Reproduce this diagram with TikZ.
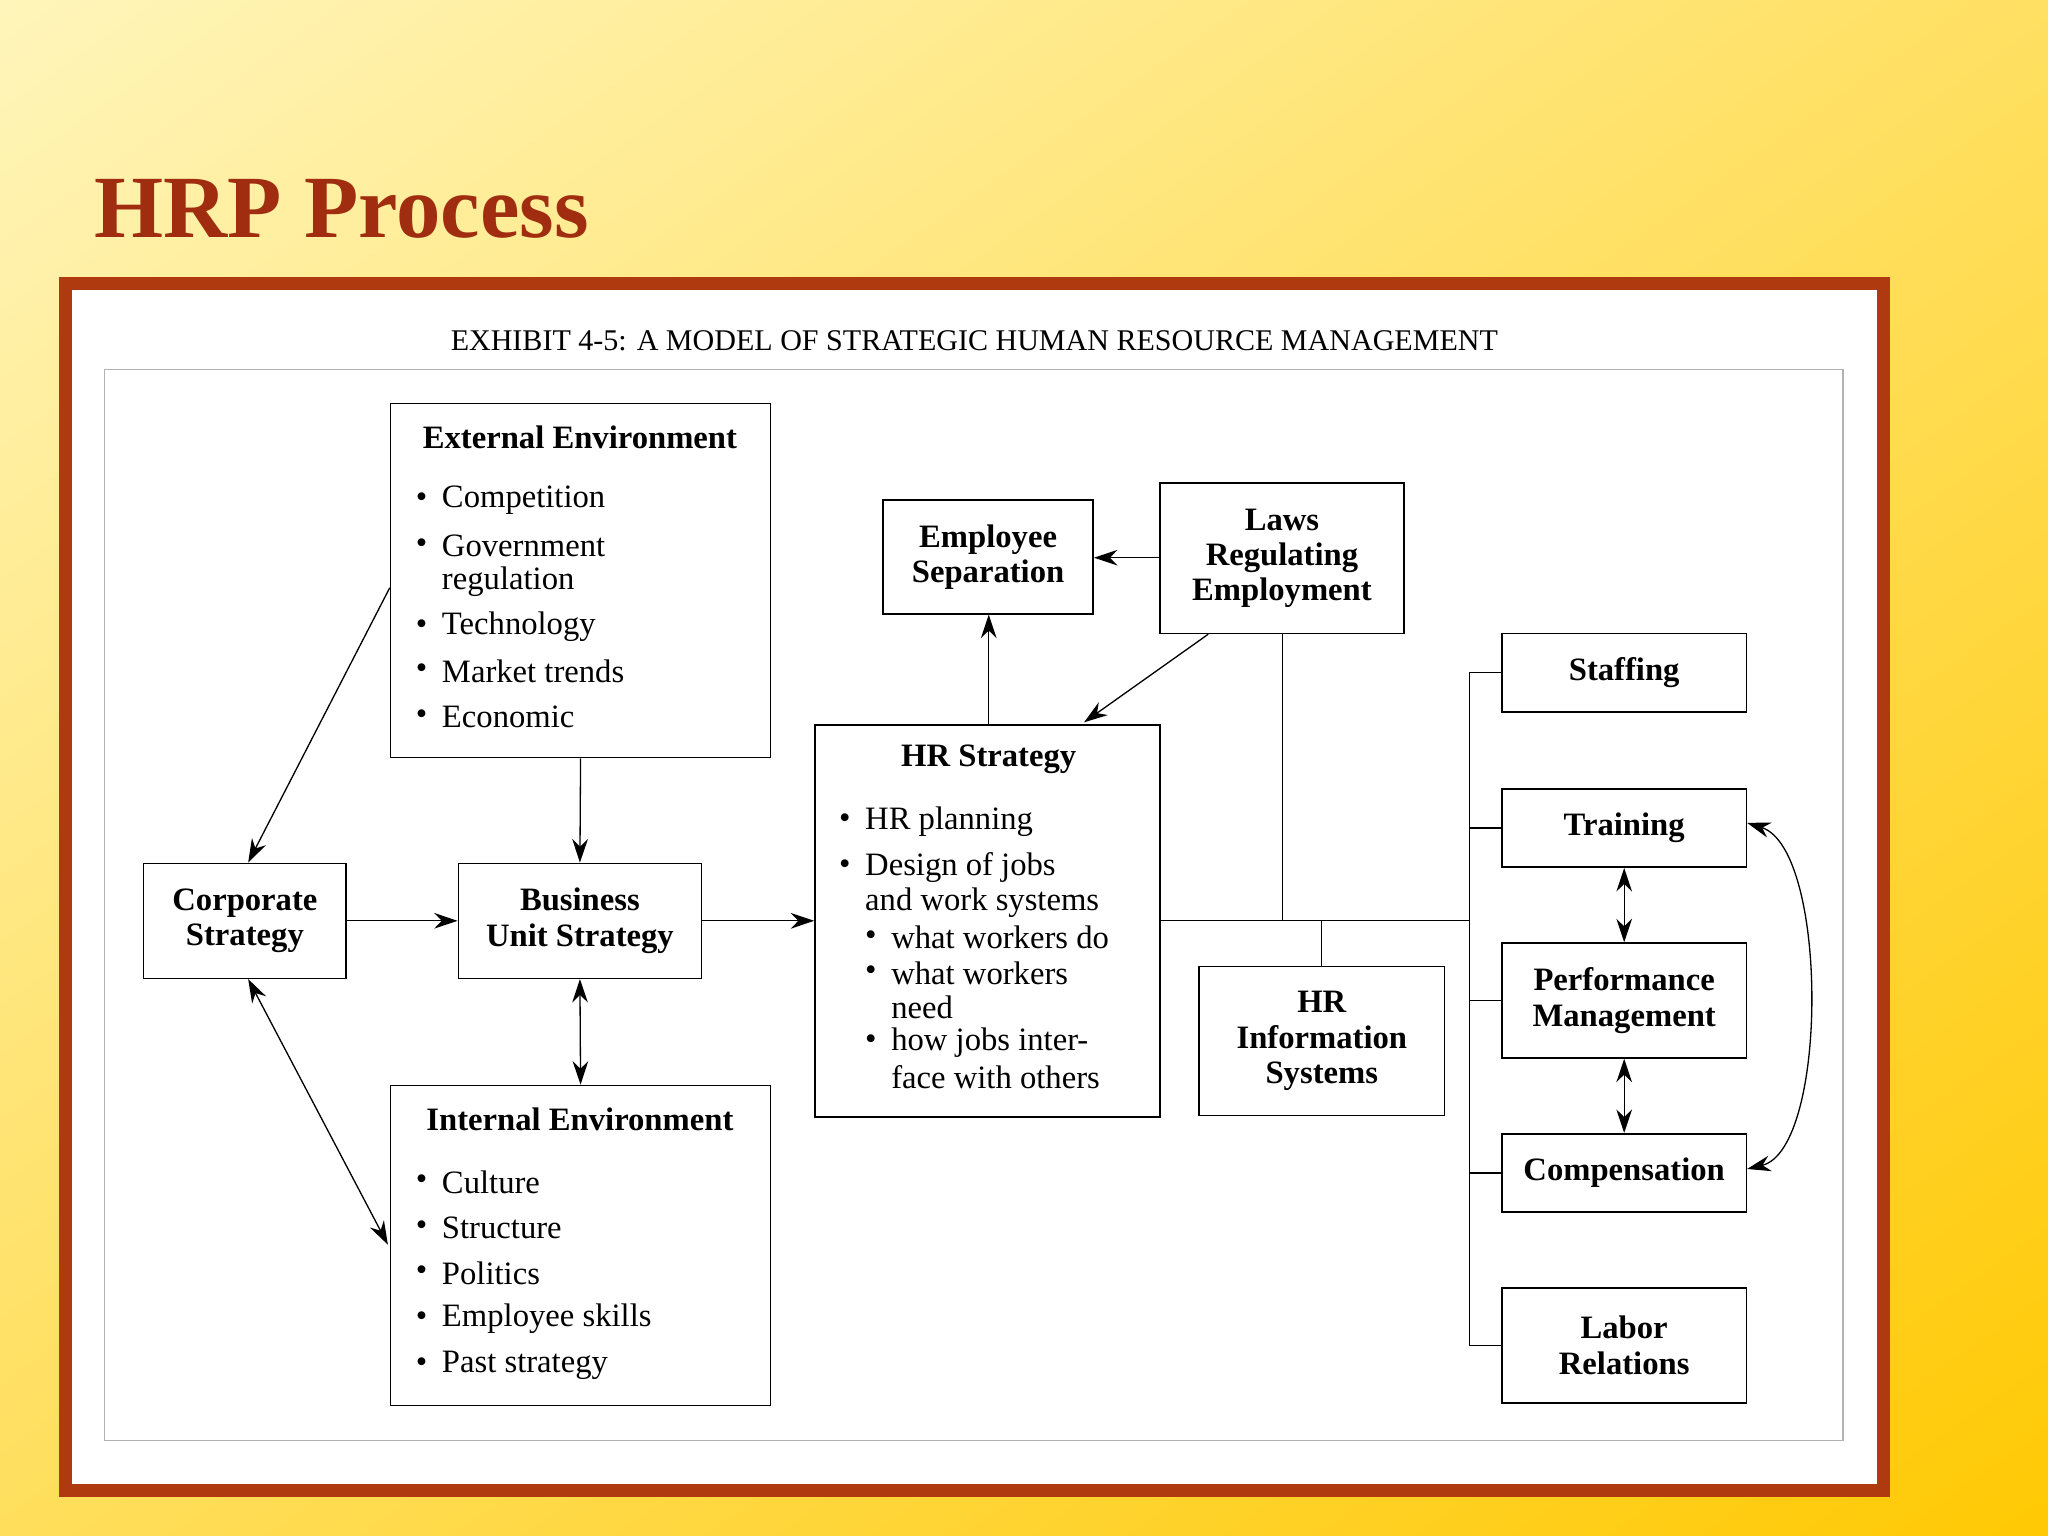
\documentclass[tikz,border=0pt]{standalone}
\usepackage{fontspec}
\setmainfont{Liberation Serif}
\usetikzlibrary{arrows.meta}
\definecolor{pale}{RGB}{255,246,190}
\definecolor{gold}{RGB}{255,200,0}
\definecolor{frame}{RGB}{176,58,16}
\definecolor{ttl}{RGB}{160,45,15}
\tikzset{
 box/.style={draw,line width=0.6pt,inner sep=0pt,font=\fontsize{12.5}{13.5}\selectfont\bfseries,align=center},
 ln/.style={line width=0.5pt},
 ar/.style={ln,-{Stealth[length=9pt,width=6pt]}},
 dar/.style={ln,{Stealth[length=9pt,width=6pt]}-{Stealth[length=9pt,width=6pt]}},
 tx/.style={anchor=west,inner sep=0pt,font=\fontsize{12.5}{13.5}\selectfont},
 hd/.style={inner sep=0pt,font=\fontsize{12.5}{13.5}\selectfont\bfseries},
}
\newcommand\bx[6]{\node[box,minimum width={(#4-#2)*0.5pt},minimum height={(#5-#3)*0.5pt}] (#1) at ({(#2+#4)/2},{(#3+#5)/2}) {#6};}
\newcommand\bl[3]{\node[tx] at (#1,#2) {\textbullet}; \node[tx] at (#1+20,#2) {#3};}
\newcommand\tl[3]{\node[tx] at (#1,#2) {#3};}
\begin{document}
\begin{tikzpicture}[x=0.5pt,y=-0.5pt]
\useasboundingbox (0,0) rectangle (1568,1176);
\shade[top color=pale,bottom color=gold,shading angle=35] (-300,-300) rectangle (1868,1476);
\fill[white] (45,212) rectangle (1447,1146);
\draw[frame,line width=5pt] (50,217) rectangle (1442,1141);
\draw[gray!60,line width=0.5pt] (80,283) rectangle (1411,1103);
\node[anchor=west,inner sep=0pt,text=ttl,font=\fontsize{34}{36}\selectfont\bfseries] (title) at (72,160) {HRP Process};
\node[inner sep=0pt,font=\fontsize{11.5}{13}\selectfont] (exh) at (746,261) {EXHIBIT 4-5: A MODEL OF STRATEGIC HUMAN RESOURCE MANAGEMENT};
% boxes
\bx{ext}{299}{309}{590}{580}{}
\bx{corp}{110}{661}{265}{749}{Corporate\\Strategy}
\bx{bus}{351}{661}{537}{749}{Business\\Unit Strategy}
\bx{int}{299}{831}{590}{1076}{}
\bx{hrs}{624}{555}{888}{855}{}
\bx{sep}{676}{383}{837}{470}{Employee\\Separation}
\bx{laws}{888}{370}{1075}{485}{Laws\\Regulating\\Employment}
\bx{hris}{918}{740}{1106}{854}{HR\\Information\\Systems}
\bx{staff}{1150}{485}{1337}{545}{Staffing}
\bx{train}{1150}{604}{1337}{664}{Training}
\bx{perf}{1150}{722}{1337}{810}{Performance\\Management}
\bx{comp}{1150}{868}{1337}{928}{Compensation}
\bx{labor}{1150}{986}{1337}{1074}{Labor\\Relations}
% texts
\node[hd] at (444,335) {External Environment};
\bl{318}{383}{Competition}
\bl{318}{418}{Government}
\tl{338}{445}{regulation}
\bl{318}{480}{Technology}
\bl{318}{514}{Market trends}
\bl{318}{549}{Economic}
\node[hd] at (444,857) {Internal Environment};
\bl{318}{905}{Culture}
\bl{318}{940}{Structure}
\bl{318}{975}{Politics}
\bl{318}{1010}{Employee skills}
\bl{318}{1045}{Past strategy}
\node[hd] at (757,581) {HR Strategy};
\bl{642}{629}{HR planning}
\bl{642}{664}{Design of jobs}
\tl{662}{691}{and work systems}
\bl{662}{718}{what workers do}
\bl{662}{745}{what workers}
\tl{682}{771}{need}
\bl{662}{798}{how jobs inter-}
\tl{682}{825}{face with others}
% connectors
\coordinate (bt) at (1125,515);
\coordinate (bb) at (1125,1030);
\coordinate (j1) at (982,705);
\coordinate (j2) at (1012,705);
\coordinate (jb) at (1125,705);
\draw[ln] (bt) -- (bb);
\draw[ln] (bt) -- (staff.west|-bt);
\draw[ln] (1125,634) -- (train.west|-0,634);
\draw[ln] (1125,766) -- (perf.west|-0,766);
\draw[ln] (1125,898) -- (comp.west|-0,898);
\draw[ln] (bb) -- (labor.west|-bb);
\draw[ln] (hrs.east|-jb) -- (jb);
\draw[ln] (laws.south-|j1) -- (j1);
\draw[ln] (hris.north-|j2) -- (j2);
\draw[ar] (ext.west|-0,450) -- (corp.north-|190,0);
\draw[ar] (ext.south) -- (bus.north);
\draw[ar] (corp.east) -- (bus.west);
\draw[ar] (bus.east) -- (hrs.west|-bus.east);
\draw[dar] (bus.south) -- (int.north);
\draw[dar] (corp.south-|190,0) -- (297,953);
\draw[ar] (hrs.north-|757,0) -- (sep.south-|757,0);
\draw[ar] (laws.west|-0,427) -- (sep.east|-0,427);
\draw[ar] (laws.south-|925,0) -- (830,553);
\draw[dar] (train.south) -- (perf.north);
\draw[dar] (perf.south) -- (comp.north);
\draw[dar] (train.east|-0,630) .. controls (1400,650) and (1400,880) .. (comp.east|-0,895);
\end{tikzpicture}
\end{document}
